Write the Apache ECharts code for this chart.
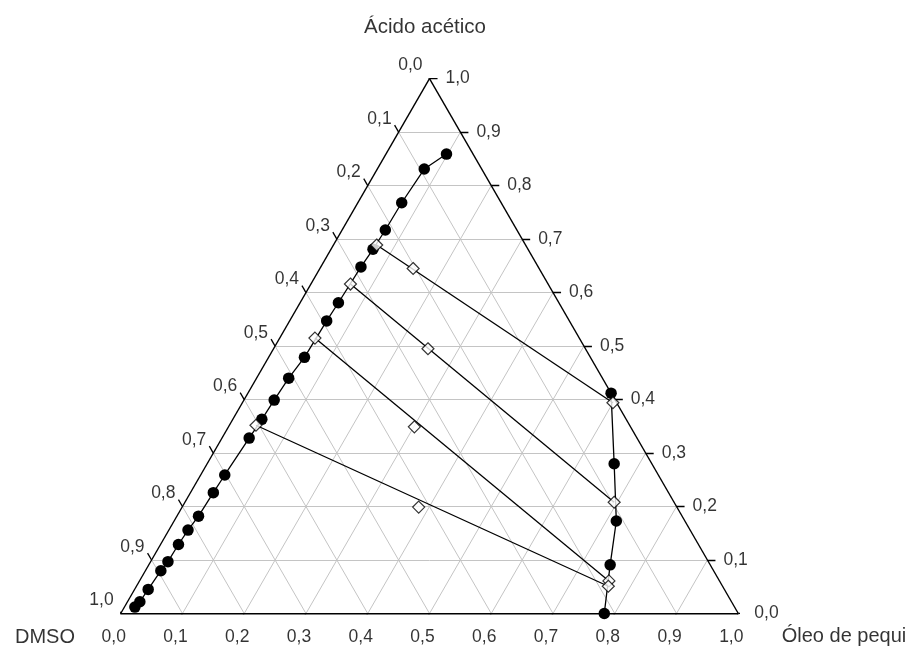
<!DOCTYPE html>
<html>
<head>
<meta charset="utf-8">
<script src="https://cdn.jsdelivr.net/npm/echarts@6/dist/echarts.min.js"></script>
<style>
  html, body { margin: 0; padding: 0; background: #ffffff; }
  #chart { width: 913px; height: 648px; }
</style>
</head>
<body>
<div id="chart"></div>
<script>
// Ternary phase diagram: Óleo de pequi / Ácido acético / DMSO.
// Every composition is given as mass fractions (oil, acid); DMSO = 1 - oil - acid.

const tickValues = [0, 0.1, 0.2, 0.3, 0.4, 0.5, 0.6, 0.7, 0.8, 0.9, 1.0];
const tickLabels = ['0,0', '0,1', '0,2', '0,3', '0,4', '0,5', '0,6', '0,7', '0,8', '0,9', '1,0'];

const nameTop = 'Ácido acético';
const nameLeft = 'DMSO';
const nameRight = 'Óleo de pequi';

// Binodal curve, DMSO-rich branch
const leftOil  = [0.098, 0.076, 0.071, 0.070, 0.068, 0.065, 0.062, 0.060, 0.058, 0.052, 0.049, 0.047,
                  0.044, 0.039, 0.037, 0.035, 0.031, 0.029, 0.028, 0.025, 0.022, 0.020, 0.017];
const leftAcid = [0.859, 0.831, 0.768, 0.717, 0.681, 0.648, 0.581, 0.547, 0.479, 0.440, 0.399, 0.363,
                  0.328, 0.259, 0.226, 0.182, 0.156, 0.129, 0.097, 0.080, 0.045, 0.022, 0.012];

// Binodal curve, oil-rich branch
const rightOil  = [0.588, 0.659, 0.716, 0.747, 0.783];
const rightAcid = [0.412, 0.280, 0.173, 0.091, 0.000];

// Tie lines: extract phase, feed mixture, raffinate phase
const tieLeftOil   = [0.070, 0.064, 0.057, 0.043];
const tieLeftAcid  = [0.689, 0.616, 0.515, 0.352];
const feedOil      = [0.151, 0.250, 0.301, 0.383];
const feedAcid     = [0.645, 0.495, 0.349, 0.199];
const tieRightOil  = [0.600, 0.695, 0.760, 0.764];
const tieRightAcid = [0.394, 0.208, 0.061, 0.051];

// ---- ternary -> cartesian (equilateral triangle, side = 1) ----
const SQ = Math.sqrt(3) / 2;
function xy(oil, acid) { return [oil + acid / 2, acid * SQ]; }

const GRID_LEFT = 120.7, GRID_TOP = 78.65, GRID_W = 617.6, GRID_H = GRID_W * SQ;
const TICK = 0.013;
const FONT = '"Liberation Sans", Arial, sans-serif';

// gray reference lines at each inner tick, three families
const gridLines = [];
tickValues.slice(1, -1).forEach(k => {
  gridLines.push({ coords: [xy(0, k), xy(1 - k, k)] });       // constant acid
  gridLines.push({ coords: [xy(k, 0), xy(k, 1 - k)] });       // constant oil
  gridLines.push({ coords: [xy(1 - k, 0), xy(0, 1 - k)] });   // constant DMSO
});

const sideLines = [
  { coords: [xy(0, 0), xy(0, 1)] },
  { coords: [xy(1, 0), xy(0, 1)] }
];
const baseLine = [{ coords: [xy(0, 0), xy(1, 0)] }];

const tickMarks = [];
tickValues.forEach(k => {
  tickMarks.push({ coords: [xy(k, 0), xy(k, -TICK)] });                  // oil axis (bottom)
  tickMarks.push({ coords: [xy(0, 1 - k), xy(-TICK, 1 - k + TICK)] });   // DMSO axis (left)
  tickMarks.push({ coords: [xy(1 - k, k), xy(1 - k + TICK, k)] });       // acid axis (right)
});

const bottomLabels = tickValues.map((k, i) => ({ value: xy(k, 0), name: tickLabels[i] }));
const leftLabels   = tickValues.map((k, i) => ({ value: xy(0, 1 - k), name: tickLabels[i] }));
const rightLabels  = tickValues.map((k, i) => ({ value: xy(1 - k, k), name: tickLabels[i] }));

const tieSegments = tieLeftOil.map((o, i) => ({
  coords: [xy(o, tieLeftAcid[i]), xy(tieRightOil[i], tieRightAcid[i])]
}));
const diamondPts = []
  .concat(tieLeftOil.map((o, i) => xy(o, tieLeftAcid[i])))
  .concat(feedOil.map((o, i) => xy(o, feedAcid[i])))
  .concat(tieRightOil.map((o, i) => xy(o, tieRightAcid[i])));

function labelSeries(data, label, z) {
  return {
    type: 'scatter', data: data, symbolSize: 1, clip: false, silent: true, z: z || 5,
    itemStyle: { color: 'transparent' },
    label: Object.assign({
      show: true, position: 'inside', formatter: p => p.name,
      color: '#000', fontFamily: FONT, fontSize: 17.5
    }, label)
  };
}

const chart = echarts.init(document.getElementById('chart'), null, { renderer: 'canvas' });
chart.setOption({
  animation: false,
  backgroundColor: '#ffffff',
  grid: { left: GRID_LEFT, top: GRID_TOP, width: GRID_W, height: GRID_H, containLabel: false },
  xAxis: { type: 'value', min: 0, max: 1, show: false },
  yAxis: { type: 'value', min: 0, max: SQ, show: false },
  series: [
    { type: 'lines', coordinateSystem: 'cartesian2d', data: gridLines, silent: true, z: 1,
      lineStyle: { color: '#c4c4c4', width: 1, opacity: 1 } },
    { type: 'lines', coordinateSystem: 'cartesian2d', data: sideLines, silent: true, z: 3,
      lineStyle: { color: '#000', width: 1.4, opacity: 1 } },
    { type: 'lines', coordinateSystem: 'cartesian2d', data: baseLine, silent: true, z: 3,
      lineStyle: { color: '#000', width: 2.2, opacity: 1 } },
    { type: 'lines', coordinateSystem: 'cartesian2d', data: tickMarks, silent: true, z: 3,
      lineStyle: { color: '#000', width: 1.3, opacity: 1 } },
    { type: 'lines', coordinateSystem: 'cartesian2d', data: tieSegments, silent: true, z: 4,
      lineStyle: { color: '#000', width: 1.3, opacity: 1 } },
    { type: 'line', data: leftOil.map((o, i) => xy(o, leftAcid[i])), clip: false, silent: true, z: 5,
      symbol: 'circle', symbolSize: 11.5, showAllSymbol: true,
      itemStyle: { color: '#000' }, lineStyle: { color: '#000', width: 1.3 } },
    { type: 'line', data: rightOil.map((o, i) => xy(o, rightAcid[i])), clip: false, silent: true, z: 5,
      symbol: 'circle', symbolSize: 11.5, showAllSymbol: true,
      itemStyle: { color: '#000' }, lineStyle: { color: '#000', width: 1.3 } },
    { type: 'scatter', data: diamondPts, clip: false, silent: true, z: 6,
      symbol: 'diamond', symbolSize: 12,
      itemStyle: { color: '#fff', borderColor: '#000', borderWidth: 1.2 } },
    labelSeries(bottomLabels, { align: 'center', verticalAlign: 'middle', offset: [-7, 23.5] }),
    labelSeries(leftLabels,   { align: 'right',  verticalAlign: 'middle', offset: [-7, -13] }),
    labelSeries(rightLabels,  { align: 'left',   verticalAlign: 'middle', offset: [16, 0] }),
    labelSeries([{ value: xy(0, 1), name: nameTop }],
                { align: 'center', verticalAlign: 'middle', offset: [-4.5, -51.5], fontSize: 20.5 }),
    labelSeries([{ value: xy(0, 0), name: nameLeft }],
                { align: 'right', verticalAlign: 'middle', offset: [-45.7, 23.5], fontSize: 20 }),
    labelSeries([{ value: xy(1, 0), name: nameRight }],
                { align: 'left', verticalAlign: 'middle', offset: [43.4, 22.5], fontSize: 20 })
  ]
});
</script>
</body>
</html>
